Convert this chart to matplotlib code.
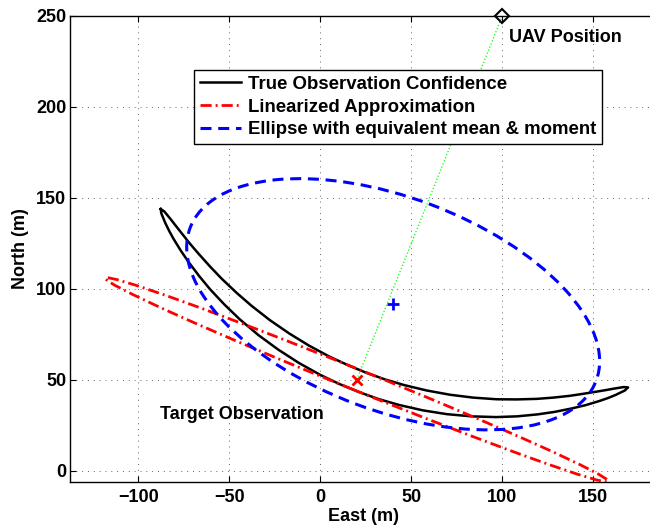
import matplotlib
matplotlib.use("Agg")
import matplotlib.pyplot as plt
from matplotlib.patches import Ellipse
from matplotlib.lines import Line2D

plt.rcParams['font.family'] = ['Liberation Sans', 'DejaVu Sans']
plt.rcParams['font.weight'] = 'bold'
plt.rcParams['axes.labelweight'] = 'bold'

# UAV and observed target (m)
uav_east, uav_north = 100, 250
target_east, target_north = 20, 50
mean_east, mean_north = 40, 91.5

# true observation confidence (banana):
# inner edge left tip -> right tip, then outer edge right tip -> left tip
true_east = [-87.7, -85.7, -82.1, -79.3, -76.3, -71.7, -66.9, -60.7, -54.3, -46.3, -37.9,
             -27.8, -17.2, -6.3, 5.0, 15.0, 25.1, 35.5, 46.0, 58.5, 71.1, 83.9, 96.7,
             107.7, 118.8, 128.0, 137.2, 144.5, 151.9, 156.7, 161.1, 166.7, 169.1,
             167.3, 162.1, 157.9, 153.2, 145.9, 138.4, 129.0, 119.5, 108.1, 96.5, 83.1,
             69.6, 56.3, 43.1, 32.0, 21.1, 10.4, -0.1, -11.9, -23.2, -34.1, -44.4, -52.7,
             -60.6, -66.7, -72.5, -76.8, -80.8, -83.2, -85.2, -87.4, -87.7]
true_north = [143.8, 142.4, 138.0, 134.4, 130.6, 124.8, 119.2, 112.3, 105.6, 98.0, 90.7,
              82.8, 75.5, 68.8, 62.7, 58.1, 53.9, 50.2, 47.1, 44.1, 41.8, 40.2, 39.3,
              39.2, 39.5, 40.2, 41.2, 42.3, 43.5, 44.3, 45.1, 46.0, 45.8,
              44.1, 41.6, 39.9, 38.3, 36.1, 34.3, 32.4, 31.0, 29.9, 29.5, 29.9,
              31.1, 33.2, 36.2, 39.4, 43.3, 47.7, 52.7, 59.3, 66.6, 74.6, 83.3, 91.3,
              99.7, 107.1, 114.8, 121.1, 127.6, 132.0, 136.1, 141.4, 143.8]

# linearized approximation ellipse (full axes lengths, degrees)
lin_width, lin_height, lin_angle = 298, 11.4, -22.0
# ellipse with equivalent mean & moment
mom_width, mom_height, mom_angle = 238.4, 117.1, -20.6

x_ticks = [-100, -50, 0, 50, 100, 150]
y_ticks = [0, 50, 100, 150, 200, 250]
legend_labels = ["True Observation Confidence", "Linearized Approximation",
                 "Ellipse with equivalent mean & moment"]

red_dash = (0, (4, 1.45, 0.7, 1.45))
blue_dash = (0, (3.6, 2.2))

fig = plt.figure(figsize=(6.5, 5.29), dpi=100)
ax = fig.add_axes([0.1082, 0.0894, 0.9026, 0.8809])

# line of sight from UAV to target
ax.plot([uav_east, target_east], [uav_north, target_north], color='#00ff00',
        linestyle=':', linewidth=0.9, zorder=2)

ax.plot(true_east, true_north, color='k', linewidth=1.8, zorder=3)

ax.add_patch(Ellipse((target_east, target_north), lin_width, lin_height, angle=lin_angle,
                     fill=False, edgecolor='r', linewidth=2, linestyle=red_dash, zorder=4))
ax.add_patch(Ellipse((mean_east, mean_north), mom_width, mom_height, angle=mom_angle,
                     fill=False, edgecolor='b', linewidth=2.2, linestyle=blue_dash, zorder=5))

ax.plot(target_east, target_north, 'x', color='r', markersize=7, markeredgewidth=2, zorder=6)
ax.plot(mean_east, mean_north, '+', color='b', markersize=9, markeredgewidth=2, zorder=6)
ax.plot(uav_east, uav_north, 'D', markerfacecolor='none', markeredgecolor='k',
        markersize=7, markeredgewidth=1.5, clip_on=False, zorder=7)

ax.text(-88, 31, "Target Observation", ha='left', va='center', fontsize=13)
ax.text(103.5, 238, "UAV Position", ha='left', va='center', fontsize=13)

ax.set_xlim(-137.4, 185)
ax.set_ylim(-6, 250)
ax.set_xticks(x_ticks)
ax.set_yticks(y_ticks)
ax.tick_params(direction='in', length=4.5, width=0.8, top=True, right=True, labelsize=13)
ax.tick_params(axis='x', pad=5)
ax.tick_params(axis='y', pad=3)
ax.grid(True, color='0.4', linestyle=(0, (1, 5)), linewidth=0.7)
for sp in ax.spines.values():
    sp.set_linewidth(1.0)

ax.set_xlabel("East (m)", fontsize=13, labelpad=2)
ax.set_ylabel("North (m)", fontsize=13, labelpad=5)

handles = [Line2D([], [], color='k', linewidth=1.8),
           Line2D([], [], color='r', linewidth=2, linestyle=red_dash),
           Line2D([], [], color='b', linewidth=2.2, linestyle=blue_dash)]
leg = ax.legend(handles, legend_labels, loc='upper left',
                bbox_to_anchor=(194.3 / 650, 1 - 70 / 529), bbox_transform=fig.transFigure,
                borderaxespad=0, fontsize=13.4, fancybox=False, framealpha=1, edgecolor='k',
                handlelength=2.2, handletextpad=0.35, borderpad=0.32, labelspacing=0.3)
leg.get_frame().set_linewidth(1.0)
leg.set_zorder(10)

fig.savefig("out.png", dpi=100)
